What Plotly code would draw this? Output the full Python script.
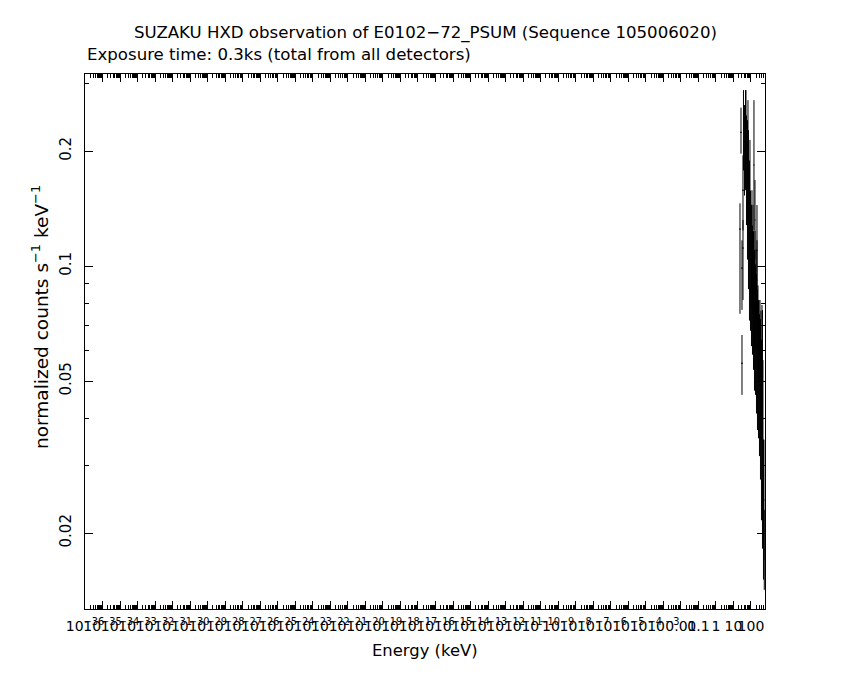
import plotly.graph_objects as go

# ---- data (energy in keV, rate in counts/s/keV) ----
energy = [23.6, 26.9, 30.7, 30.7, 35.0, 35.0, 37.3, 42.6, 48.6, 51.9, 55.3, 63.1, 67.4,
          72.0, 82.1, 87.7, 93.6, 106.8, 114.0, 121.8, 130.0, 139.0, 148.0, 158.4, 169.0,
          169.0, 180.6, 193.0, 206.0, 220.0, 220.0, 235.0, 251.0, 268.0, 286.0, 305.0,
          326.0, 348.0, 372.0, 397.0, 424.0, 453.0, 453.0, 483.0, 516.0, 552.0, 574.0]
energy_err = [2.4, 2.8, 3.2, 3.2, 3.6, 3.6, 2.6, 3.0, 3.4, 2.1, 3.9, 4.4, 2.7,
              5.0, 5.7, 3.5, 6.6, 7.5, 4.6, 8.5, 5.2, 9.7, 5.0, 11.1, 6.8,
              6.8, 12.6, 7.7, 14.4, 7.0, 8.8, 16.5, 10.0, 18.8, 11.4, 21.4,
              13.0, 24.4, 14.9, 27.8, 17.0, 31.7, 20.0, 19.3, 36.1, 22.1, 40.2]
rate = [0.125, 0.224, 0.0988, 0.0557, 0.158, 0.1115, 0.227, 0.201, 0.214, 0.241, 0.178, 0.158, 0.189,
        0.140, 0.117, 0.149, 0.1037, 0.0947, 0.110, 0.0866, 0.1037, 0.0815, 0.184, 0.0722, 0.0866,
        0.132, 0.068, 0.0815, 0.0621, 0.0919, 0.110, 0.0567, 0.068, 0.0534, 0.064, 0.0488,
        0.068, 0.0446, 0.0534, 0.0372, 0.0621, 0.0292, 0.0567, 0.0351, 0.0230, 0.0244, 0.0181]
rate_err_plus = [0.021, 0.036, 0.018, 0.0103, 0.037, 0.0205, 0.062, 0.063, 0.075, 0.048, 0.070, 0.083, 0.083,
                 0.087, 0.072, 0.065, 0.054, 0.050, 0.048, 0.041, 0.041, 0.042, 0.088, 0.038, 0.037,
                 0.036, 0.033, 0.029, 0.033, 0.025, 0.0345, 0.030, 0.021, 0.028, 0.0175, 0.026,
                 0.0135, 0.028, 0.023, 0.027, 0.017, 0.018, 0.020, 0.0216, 0.012, 0.0107, 0.0049]
rate_err_minus = [0.050, 0.027, 0.022, 0.0097, 0.034, 0.030, 0.049, 0.048, 0.056, 0.040, 0.050, 0.054, 0.057,
                  0.053, 0.045, 0.045, 0.036, 0.033, 0.033, 0.028, 0.029, 0.028, 0.060, 0.025, 0.026,
                  0.028, 0.022, 0.021, 0.021, 0.020, 0.026, 0.0195, 0.016, 0.018, 0.0137, 0.017,
                  0.0113, 0.017, 0.016, 0.0156, 0.0133, 0.011, 0.0147, 0.0135, 0.0079, 0.0074, 0.0039]

x_exponents = list(range(-36, 3))
x_tickvals = [10.0 ** e for e in x_exponents]
x_ticktext = [("10<sup>\u2212%d</sup>" % (-e)) if e <= -3 else
              {-2: "0.01", -1: "0.1", 0: "1", 1: "10", 2: "100"}[e] for e in x_exponents]
y_tickvals = [0.02, 0.05, 0.1, 0.2]
y_ticktext = ["0.02", "0.05", "0.1", "0.2"]

FONT = "DejaVu Sans"

fig = go.Figure()
fig.add_trace(go.Scatter(
    x=energy, y=rate, mode="markers",
    marker=dict(size=1, color="black"),
    error_x=dict(type="data", array=energy_err, arrayminus=energy_err,
                 width=0, thickness=1, color="black"),
    error_y=dict(type="data", array=rate_err_plus, arrayminus=rate_err_minus,
                 width=0, thickness=1, color="black"),
    showlegend=False,
))

axis_common = dict(showline=True, linecolor="black", linewidth=1, mirror="allticks",
                   ticks="inside", tickcolor="black", tickwidth=1, showgrid=False,
                   zeroline=False)

fig.update_xaxes(type="log", range=[-36, 2.8], tickmode="array",
                 tickvals=x_tickvals, ticktext=x_ticktext, ticklen=8, tickangle=0,
                 ticklabelstandoff=4,
                 tickfont=dict(family=FONT, size=14, color="black"),
                 minor=dict(ticks="inside", ticklen=4, dtick="D1", tickcolor="black",
                            tickwidth=1, showgrid=False),
                 **axis_common)
fig.update_yaxes(type="log", range=[-1.898, -0.497], tickmode="array",
                 tickvals=y_tickvals, ticktext=y_ticktext, ticklen=8, tickangle=-90,
                 ticklabelstandoff=7,
                 tickfont=dict(family=FONT, size=15, color="black"),
                 minor=dict(ticks="inside", ticklen=4, dtick="D1", tickcolor="black",
                            tickwidth=1, showgrid=False),
                 **axis_common)

fig.add_annotation(text="SUZAKU HXD observation of E0102\u221272_PSUM (Sequence 105006020)",
                   xref="paper", yref="paper", x=0.5, y=1 + (74 - 33) / 535,
                   xanchor="center", yanchor="middle", showarrow=False,
                   font=dict(family=FONT, size=16.6, color="black"))
fig.add_annotation(text="Exposure time: 0.3ks (total from all detectors)",
                   xref="paper", yref="paper", x=0, y=1 + (74 - 54) / 535,
                   xanchor="left", yanchor="middle", showarrow=False,
                   font=dict(family=FONT, size=16.6, color="black"))
fig.add_annotation(text="normalized counts s<sup>\u22121</sup> keV<sup>\u22121</sup>",
                   xref="paper", yref="paper", x=(40 - 85) / 680, y=(609 - 317) / 535,
                   xanchor="center", yanchor="middle", textangle=-90, showarrow=False,
                   font=dict(family=FONT, size=18.5, color="black"))
fig.add_annotation(text="Energy (keV)",
                   xref="paper", yref="paper", x=0.5, y=(609 - 650) / 535,
                   xanchor="center", yanchor="middle", showarrow=False,
                   font=dict(family=FONT, size=16.4, color="black"))

# the page body adds an 8 px offset, so the figure is 8 px smaller and margins shifted
fig.update_layout(width=842, height=672,
                  margin=dict(l=77, r=85, t=66, b=71, autoexpand=False),
                  paper_bgcolor="white", plot_bgcolor="white",
                  font=dict(family=FONT, color="black"))

fig.write_html("out.html")
